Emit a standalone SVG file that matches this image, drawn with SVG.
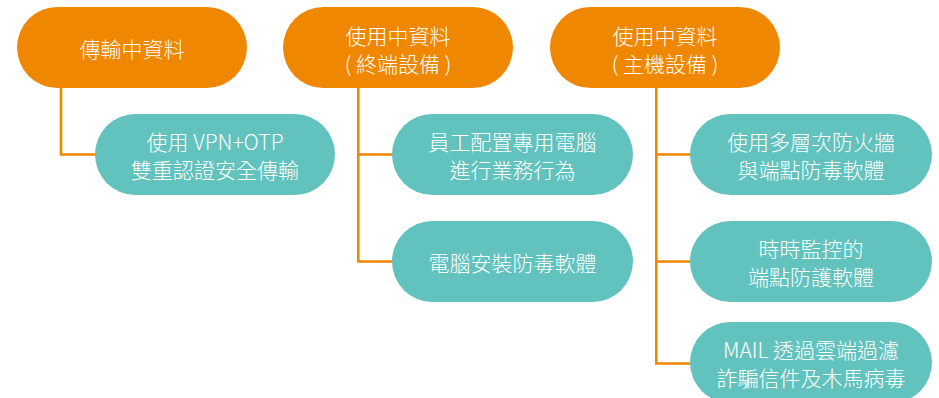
<svg xmlns="http://www.w3.org/2000/svg" width="939" height="398" viewBox="0 0 939 398">
<style>
.conn{fill:none;stroke:#F08700;stroke-width:2.6}
.cat{fill:#F08700}
.item{fill:#62C2BE}
text{font-family:"Noto Sans CJK TC","Noto Sans",sans-serif;font-size:21px;font-weight:300;fill:#FFFFFF;text-anchor:middle;dominant-baseline:central}
</style>
<rect width="939" height="398" fill="#FFFFFF"/>
<g id="connectors">
<path class="conn" d="M61,87 V154.5 H96"/>
<path class="conn" d="M358.3,87 V261.5 H393 M358.3,154.5 H393"/>
<path class="conn" d="M656.3,87 V363.5 H691 M656.3,154.5 H691 M656.3,261.5 H691"/>
</g>
<g id="cat1"><rect class="cat" x="17" y="7" width="230" height="81" rx="40.5"/><text x="132" y="48">傳輸中資料</text></g>
<g id="cat2"><rect class="cat" x="283" y="7" width="230" height="81" rx="40.5"/><text x="398" y="34.5">使用中資料</text><text x="398" y="62.5">( 終端設備 )</text></g>
<g id="cat3"><rect class="cat" x="550" y="7" width="230" height="81" rx="40.5"/><text x="665" y="34.5">使用中資料</text><text x="665" y="62.5">( 主機設備 )</text></g>
<g id="item1a"><rect class="item" x="95" y="114" width="240" height="81" rx="40.5"/><text x="215" y="141">使用 VPN+OTP</text><text x="215" y="169">雙重認證安全傳輸</text></g>
<g id="item2a"><rect class="item" x="392" y="114" width="241" height="81" rx="40.5"/><text x="512.5" y="141">員工配置專用電腦</text><text x="512.5" y="169">進行業務行為</text></g>
<g id="item2b"><rect class="item" x="392" y="221" width="241" height="81" rx="40.5"/><text x="512.5" y="262">電腦安裝防毒軟體</text></g>
<g id="item3a"><rect class="item" x="690" y="114" width="242" height="81" rx="40.5"/><text x="811" y="141">使用多層次防火牆</text><text x="811" y="169">與端點防毒軟體</text></g>
<g id="item3b"><rect class="item" x="690" y="221" width="242" height="81" rx="40.5"/><text x="811" y="248">時時監控的</text><text x="811" y="276">端點防護軟體</text></g>
<g id="item3c"><rect class="item" x="690" y="322" width="242" height="81" rx="40.5"/><text x="811" y="349">MAIL 透過雲端過濾</text><text x="811" y="377">詐騙信件及木馬病毒</text></g>
</svg>
